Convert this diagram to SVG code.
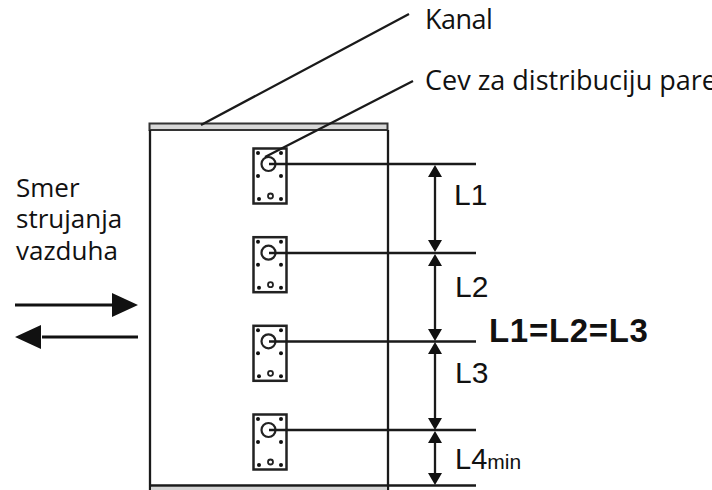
<svg xmlns="http://www.w3.org/2000/svg" width="712" height="490" viewBox="0 0 712 490">
<style>
.t{font-family:"Liberation Sans","Noto Sans",Arial,sans-serif;fill:#111}
.m{font-family:"Open Sans","DejaVu Sans",sans-serif;fill:#111;font-size:26px}
.l{fill:none;stroke:#1a1a1a;stroke-width:2.300}
.d{fill:#fff;stroke:#222;stroke-width:2.500}
.c{fill:none;stroke:#222;stroke-width:2.200}
.k{fill:#111}
</style>
<defs>
<g id="dev">
<rect class="d" x="253.500" y="148.500" width="33" height="55"/>
<circle class="c" cx="268.500" cy="164" r="7"/>
<g class="k">
<circle cx="258" cy="153" r="2"/><circle cx="281" cy="153" r="2"/>
<circle cx="258" cy="176" r="2"/><circle cx="281" cy="176" r="2"/>
<circle cx="259" cy="199" r="2"/><circle cx="281" cy="199" r="2"/>
</g>
<circle cx="270.500" cy="196" r="2.500" fill="none" stroke="#222" stroke-width="1.800"/>
</g>
</defs>
<g id="duct">
<rect x="149.500" y="123.500" width="238" height="6.500" fill="#d8d8d8" stroke="#333" stroke-width="2"/>
<path class="l" d="M150 130V490M388 130V490M149 485.500H476"/>
<rect x="151" y="487" width="236" height="3" fill="#d4d4d4"/>
</g>
<g id="device1"><use href="#dev"/></g>
<g id="device2"><use href="#dev" y="88.700"/></g>
<g id="device3"><use href="#dev" y="177.300"/></g>
<g id="device4"><use href="#dev" y="266"/></g>
<g id="connectors">
<path class="l" d="M201 125L409 14M265 157L413 81"/>
<path class="l" d="M269 164H476M269 253H476M269 341.500H476M269 430H476"/>
<path class="l" d="M435 172V246M435 261V334M435 350V423M435 438V478"/>
<g class="k">
<path d="M435 165L442 177H428ZM435 252L442 240H428ZM435 254L442 266H428ZM435 341L442 329H428ZM435 342L442 354H428ZM435 430L442 418H428ZM435 431L442 443H428ZM435 485L442 473H428Z"/>
</g>
<path d="M15 305H115" fill="none" stroke="#111" stroke-width="3.200"/>
<path d="M42 337H138" fill="none" stroke="#111" stroke-width="3.200"/>
<path class="k" d="M138 305L112 293V317ZM15 337L41 325V349Z"/>
</g>
<g id="labels">
<text class="m" x="425" y="29" style="font-size:27px" letter-spacing="-.5">Kanal</text>
<text class="m" x="425" y="90" style="font-size:27px">Cev za distribuciju pare</text>
<text class="m" x="16" y="197">Smer</text>
<text class="m" x="16" y="228">strujanja</text>
<text class="m" x="16" y="260">vazduha</text>
<text class="t" x="454" y="205" font-size="30">L1</text>
<text class="t" x="455" y="297" font-size="30">L2</text>
<text class="t" x="455" y="383" font-size="30">L3</text>
<text class="t" x="455" y="469" font-size="29">L4<tspan font-size="21">min</tspan></text>
<text class="t" x="489" y="342" font-size="33" font-weight="bold" letter-spacing=".7">L1=L2=L3</text>
</g>
</svg>
